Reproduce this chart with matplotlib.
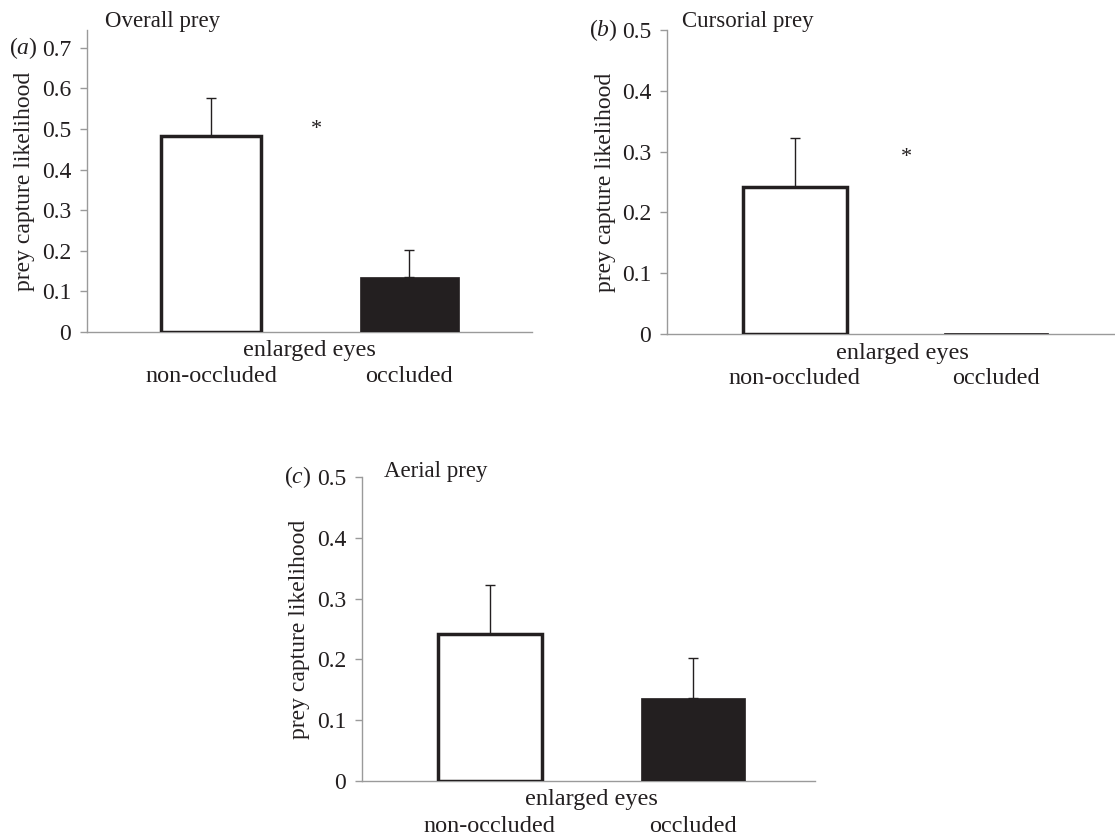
import matplotlib
matplotlib.use("Agg")
import matplotlib.pyplot as plt
import matplotlib.transforms as mtransforms

plt.rcParams['font.family'] = ['Liberation Serif', 'DejaVu Serif']
plt.rcParams['mathtext.fontset'] = 'custom'
plt.rcParams['mathtext.rm'] = 'Liberation Serif'
plt.rcParams['mathtext.it'] = 'Liberation Serif:italic'

categories = ["non-occluded", "occluded"]
group_label = "enlarged eyes"
ylabel = "prey capture likelihood"

titles = ["Overall prey", "Cursorial prey", "Aerial prey"]
panel_letters = ["a", "b", "c"]

overall_means = [0.482, 0.135]
overall_err = [0.095, 0.068]
cursorial_means = [0.241, 0.002]
cursorial_err = [0.081, 0.0]
aerial_means = [0.241, 0.137]
aerial_err = [0.081, 0.066]

star_overall = (0.53, 0.50)
star_cursorial = (0.553, 0.29)

yticks_a = [0, 0.1, 0.2, 0.3, 0.4, 0.5, 0.6, 0.7]
yticks_bc = [0, 0.1, 0.2, 0.3, 0.4, 0.5]

W, H = 1115, 836
fig = plt.figure(figsize=(W / 100, H / 100), dpi=100)

def px_axes(left, right, top, bottom):
    return fig.add_axes([left / W, 1 - bottom / H, (right - left) / W, (bottom - top) / H])

spine_col = "#9a9a9a"
dark = "#231f20"

def draw(ax, means, errs, yticks, ymax, xlim, title, letter, star=None,
         title_dx=18, title_dy=8, group_x=0.5, width=0.5):
    x = [0, 1]
    ax.bar(x[0], means[0], width=width, color="white", edgecolor=dark, linewidth=2.5, zorder=3)
    ax.bar(x[1], means[1], width=width, color=dark, edgecolor=dark, linewidth=0.5, zorder=3)
    for xi, m, e in zip(x, means, errs):
        if e > 0:
            ax.errorbar(xi, m, yerr=[[0], [e]], fmt="none", ecolor=dark, elinewidth=1.0,
                        capsize=3.6, capthick=1.0, zorder=2)
    ax.set_xlim(*xlim)
    ax.set_ylim(0, ymax)
    ax.set_yticks(yticks)
    ax.set_yticklabels(["0" if v == 0 else f"{v:.1f}" for v in yticks], fontsize=17)
    ax.set_xticks([])
    for s in ["top", "right"]:
        ax.spines[s].set_visible(False)
    for s in ["left", "bottom"]:
        ax.spines[s].set_color(spine_col)
        ax.spines[s].set_linewidth(1.0)
        ax.spines[s].set_zorder(1)
    ax.tick_params(axis="y", color=spine_col, length=5, width=1.0, pad=6.5, labelcolor=dark)
    left_tr = mtransforms.blended_transform_factory(ax.transAxes, ax.transData)
    bot_tr = mtransforms.blended_transform_factory(ax.transData, ax.transAxes)
    # y label
    ax.annotate(ylabel, xy=(0, 0.5), xycoords="axes fraction", xytext=(-62, 0),
                textcoords="offset pixels", rotation=90, ha="center", va="center",
                fontsize=17, color=dark)
    # group label and category labels
    ax.annotate(group_label, xy=(group_x, 0), xycoords=bot_tr, xytext=(0, -19),
                textcoords="offset pixels", ha="center", va="center", fontsize=17.5, color=dark)
    for xi, c in zip(x, categories):
        ax.annotate(c, xy=(xi, 0), xycoords=bot_tr, xytext=(0, -45),
                    textcoords="offset pixels", ha="center", va="center", fontsize=17.5, color=dark)
    # title
    ax.annotate(title, xy=(0, 1), xycoords="axes fraction", xytext=(title_dx, title_dy),
                textcoords="offset pixels", ha="left", va="center", fontsize=16.5, color=dark)
    # panel letter
    ax.annotate(f"($\\mathit{{{letter}}}$)", xy=(0, yticks[-1]), xycoords=left_tr,
                xytext=(-78, 0), textcoords="offset pixels", ha="left", va="center",
                fontsize=17, color=dark)
    if star is not None:
        ax.text(star[0], star[1], "*", ha="center", va="center", fontsize=16, color=dark)

ax_a = px_axes(87, 532, 30, 332)
draw(ax_a, overall_means, overall_err, yticks_a, 0.744, (-0.626, 1.62), titles[0],
     panel_letters[0], star=star_overall, title_dx=18, title_dy=8, group_x=0.495, width=0.5)

ax_b = px_axes(667, 1115, 30, 334)
draw(ax_b, cursorial_means, cursorial_err, yticks_bc, 0.5, (-0.633, 1.59), titles[1],
     panel_letters[1], star=star_cursorial, title_dx=15, title_dy=8, group_x=0.533, width=0.516)

ax_c = px_axes(362, 815, 477, 781)
draw(ax_c, aerial_means, aerial_err, yticks_bc, 0.5, (-0.628, 1.6), titles[2],
     panel_letters[2], title_dx=22, title_dy=6, group_x=0.5, width=0.51)

fig.savefig("out.png", dpi=100)
